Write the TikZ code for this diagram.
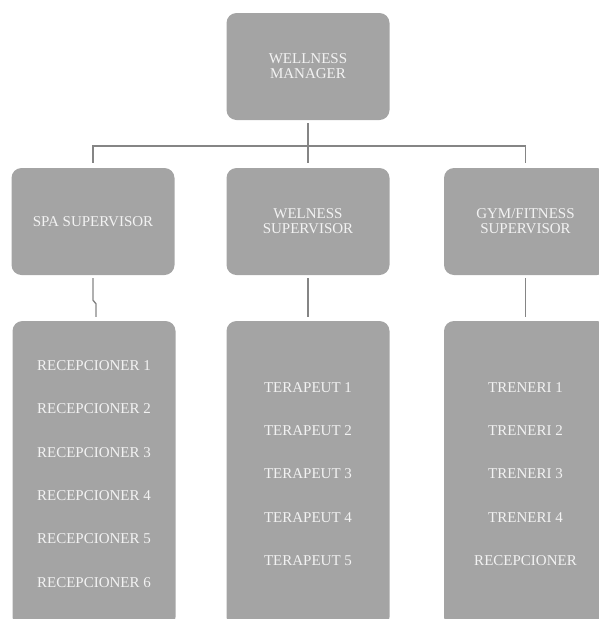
\documentclass[tikz,border=0pt]{standalone}
\usepackage{fontspec}
\setmainfont{Liberation Serif}
\usepackage{xcolor}
\usepackage{tikz}

\definecolor{boxgray}{HTML}{A4A4A4}
\definecolor{boxtext}{HTML}{F2F2F2}
\definecolor{linegray}{HTML}{858585}

\begin{document}
\begin{tikzpicture}[x=1pt, y=-1pt,
    orgbox/.style={rectangle, rounded corners=10pt, fill=boxgray, text=boxtext,
      minimum width=163pt, minimum height=107pt, align=center, inner sep=0pt,
      font=\fontsize{15}{15}\selectfont},
    listbox/.style={orgbox, minimum height=306pt, font=\fontsize{15}{43.3}\selectfont},
    link/.style={draw=linegray, line width=1.4pt}]
  \useasboundingbox (0,0) rectangle (598,619);
  % top
  \node[orgbox] (mgr) at (308,66.5) {WELLNESS\\MANAGER};
  % supervisors
  \node[orgbox] (spa) at (93,221.5) {SPA SUPERVISOR};
  \node[orgbox] (wel) at (308,221.5) {WELNESS\\SUPERVISOR};
  \node[orgbox] (gym) at (525.5,221.5) {GYM/FITNESS\\SUPERVISOR};
  % staff lists
  \node[listbox] (spalist) at (94,474) {RECEPCIONER 1\\RECEPCIONER 2\\RECEPCIONER 3\\RECEPCIONER 4\\RECEPCIONER 5\\RECEPCIONER 6};
  \node[listbox] (wellist) at (308,474) {TERAPEUT 1\\TERAPEUT 2\\TERAPEUT 3\\TERAPEUT 4\\TERAPEUT 5};
  \node[listbox] (gymlist) at (525.5,474) {TRENERI 1\\TRENERI 2\\TRENERI 3\\TRENERI 4\\RECEPCIONER};
  % connectors
  \coordinate (bus) at (308,146);
  \draw[link, shorten <=3pt, shorten >=5pt] (mgr.south) -- (wel.north);
  \draw[link, shorten <=5pt, shorten >=5pt] (spa.north) |- (bus) -| (gym.north);
  \draw[link, shorten <=3pt, shorten >=4pt] (spa.south) -- +(0,25) -- ([xshift=2pt,yshift=17pt]spalist.north) -- ([xshift=2pt]spalist.north);
  \draw[link, shorten <=3pt, shorten >=4pt] (wel.south) -- (wellist.north);
  \draw[link, shorten <=3pt, shorten >=4pt] (gym.south) -- (gymlist.north);
\end{tikzpicture}
\end{document}
